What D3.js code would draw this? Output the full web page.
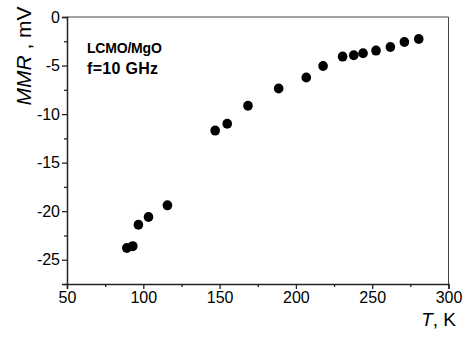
<!DOCTYPE html>
<html>
<head>
<meta charset="utf-8">
<script src="https://cdn.jsdelivr.net/npm/d3@7"></script>
<style>
  body { margin: 0; background: #fff; }
  text { font-family: "Liberation Sans", Arial, sans-serif; fill: #000; }
</style>
</head>
<body>
<div id="chart"></div>
<script>
// temperature (K) and MMR signal (mV)
const temps = [89.2, 93.1, 96.8, 103.4, 115.8, 147.1, 155, 168.6, 188.7, 206.8, 217.8, 230.6, 237.9, 244, 252.5, 261.9, 271.1, 280.5];
const mmr = [-23.8, -23.6, -21.4, -20.6, -19.4, -11.7, -11.0, -9.15, -7.37, -6.24, -5.04, -4.08, -3.94, -3.74, -3.46, -3.09, -2.57, -2.26];
const xTicks = [50, 100, 150, 200, 250, 300];
const yTicks = [0, -5, -10, -15, -20, -25];
const labels = ['LCMO/MgO', 'f=10 GHz'];

const width = 464;
const height = 338;
const margin = { top: 17, right: 15, bottom: 54, left: 67 };

const svg = d3.select('#chart')
  .append('svg')
  .attr('width', width)
  .attr('height', height);

const x = d3.scaleLinear()
  .domain([50, 300])
  .range([margin.left, width - margin.right - 0.5]);

const y = d3.scaleLinear()
  .domain([-27.5, 0])
  .range([height - margin.bottom, margin.top]);

// frame (top and right)
svg.append('path')
  .attr('d', `M${x(50)},${y(0)}H${x(300)}V${y(-27.5)}`)
  .attr('fill', 'none')
  .attr('stroke', '#444')
  .attr('stroke-width', 1);

// minor ticks
const xMinor = d3.range(75, 300, 50);
const yMinor = d3.range(-2.5, -27.6, -5);

svg.append('g')
  .attr('transform', `translate(0,${y(-27.5)})`)
  .call(d3.axisBottom(x).tickValues(xTicks).tickSize(5).tickPadding(3).tickFormat(d3.format('d')));

svg.append('g')
  .attr('transform', `translate(0,${y(-27.5)})`)
  .call(d3.axisBottom(x).tickValues(xMinor).tickSize(3).tickFormat(''))
  .call((g) => g.select('.domain').remove());

const yAxis = svg.append('g')
  .attr('transform', `translate(${x(50)},0)`)
  .call(d3.axisLeft(y).tickValues(yTicks).tickSize(5).tickPadding(2).tickFormat(d3.format('d')));

svg.append('g')
  .attr('transform', `translate(${x(50)},0)`)
  .call(d3.axisLeft(y).tickValues(yMinor).tickSize(3).tickFormat(''))
  .call((g) => g.select('.domain').remove());

svg.selectAll('.domain')
  .attr('stroke', '#222')
  .attr('stroke-width', 1.5);
svg.selectAll('.tick line')
  .attr('stroke', '#222')
  .attr('stroke-width', 1.3);
svg.selectAll('.tick text')
  .style('font-size', '16px')
  .style('font-family', '"Liberation Sans", Arial, sans-serif')
  .attr('fill', '#000');

// plain hyphen for negative labels, as in the original
yAxis.selectAll('.tick text').text((d) => (d < 0 ? '-' + Math.abs(d) : d));

// points
svg.append('g')
  .selectAll('ellipse')
  .data(temps.map((t, i) => ({ t, v: mmr[i] })))
  .enter()
  .append('ellipse')
    .attr('cx', (d) => x(d.t))
    .attr('cy', (d) => y(d.v))
    .attr('rx', 4.8)
    .attr('ry', 5)
    .attr('fill', '#000');

// annotation
svg.append('g')
  .selectAll('text')
  .data(labels)
  .enter()
  .append('text')
    .attr('x', 87)
    .attr('y', (d, i) => 53 + i * 21)
    .style('font-size', (d, i) => (i === 0 ? '14px' : '16px'))
    .style('font-weight', 'bold')
    .style('letter-spacing', (d, i) => (i === 0 ? '-0.2px' : '0.3px'))
    .text((d) => d);

// y axis label
const yLabel = svg.append('text')
  .attr('transform', 'translate(31,56) rotate(-90)')
  .attr('text-anchor', 'middle')
  .style('font-size', '21px');
yLabel.append('tspan').style('font-style', 'italic').text('MMR');
yLabel.append('tspan').text(' , mV');

// x axis label
const xLabel = svg.append('text')
  .attr('x', 456)
  .attr('y', 326)
  .attr('text-anchor', 'end')
  .style('font-size', '19px');
xLabel.append('tspan').style('font-style', 'italic').text('T');
xLabel.append('tspan').text(', K');
</script>
</body>
</html>
